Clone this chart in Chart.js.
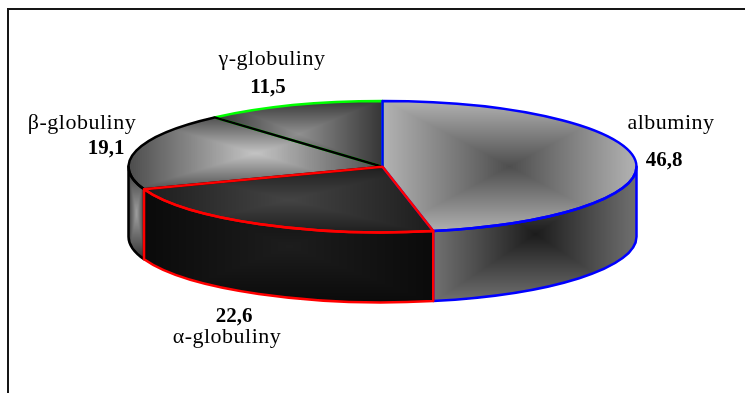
<!DOCTYPE html>
<html>
<head>
<meta charset="utf-8">
<script src="https://cdn.jsdelivr.net/npm/chart.js@4.4.1/dist/chart.umd.min.js"></script>
<style>
  html, body { margin: 0; padding: 0; background: #ffffff; }
  canvas { display: block; }
</style>
</head>
<body>
<canvas id="chart" width="745" height="393"></canvas>
<script>
// Serum protein fractions (%)
const categories = ['albuminy', 'α-globuliny', 'β-globuliny', 'γ-globuliny'];
const values = [46.8, 22.6, 19.1, 11.5];

// ---- styling ----
const edgeColors = ['#0000ff', '#ff0000', '#000000', '#00ff00'];
// [centre, edge] shades of the "from centre" fills
const topShades = [['#4e4e4e', '#b4b4b4'], ['#444444', '#1c1c1c'], ['#c4c4c4', '#4a4a4a'], ['#909090', '#333333']];
const sideShades = [['#1c1c1c', '#727272'], ['#1d1d1d', '#0a0a0a'], ['#a0a0a0', '#303030'], ['#555555', '#222222']];
const strokeOrder = [3, 2, 0, 1];
// label placement: [nameX, nameBaseline, valueX, valueBaseline]
const labelPos = [[671, 129, 664, 166], [227, 343, 234, 322], [82, 129, 106, 154], [272, 65, 268, 93]];
// projected disc: centre, radii, thickness
const DISC = { cx: 382.5, cy: 166.7, rx: 254, ry: 65.7, depth: 70 };

function hexRgb(h) {
  h = h.replace('#', '');
  return [0, 2, 4].map(i => parseInt(h.substr(i, 2), 16));
}

// rectangular gradient, centre colour fading to the edge colour
function rectShade(w, h, inner, outer) {
  w = Math.max(1, Math.ceil(w)); h = Math.max(1, Math.ceil(h));
  const cv = document.createElement('canvas');
  cv.width = w; cv.height = h;
  const g = cv.getContext('2d');
  const img = g.createImageData(w, h);
  const a = hexRgb(inner), b = hexRgb(outer);
  for (let y = 0; y < h; y++) {
    for (let x = 0; x < w; x++) {
      const t = Math.min(1, Math.max(Math.abs(x + 0.5 - w / 2) / (w / 2), Math.abs(y + 0.5 - h / 2) / (h / 2)));
      const k = (y * w + x) * 4;
      for (let c = 0; c < 3; c++) img.data[k + c] = Math.round(a[c] + (b[c] - a[c]) * t);
      img.data[k + 3] = 255;
    }
  }
  g.putImageData(img, 0, 0);
  return cv;
}

function ePt(a, dy) {
  return [DISC.cx + DISC.rx * Math.cos(a), DISC.cy + (dy || 0) + DISC.ry * Math.sin(a)];
}

function topBox(s, e) {
  const pts = [[DISC.cx, DISC.cy], ePt(s), ePt(e)];
  for (let k = -2; k <= 4; k++) {
    const a = k * Math.PI / 2;
    if (a > s && a < e) pts.push(ePt(a));
  }
  const xs = pts.map(p => p[0]), ys = pts.map(p => p[1]);
  const x = Math.min(...xs), y = Math.min(...ys);
  return { x, y, w: Math.max(...xs) - x, h: Math.max(...ys) - y };
}

function wallRange(el) {
  const a1 = Math.max(el.startAngle, 0), a2 = Math.min(el.endAngle, Math.PI);
  return a2 > a1 ? [a1, a2] : null;
}

function wallPath(ctx, a1, a2) {
  ctx.beginPath();
  ctx.ellipse(DISC.cx, DISC.cy, DISC.rx, DISC.ry, 0, a1, a2, false);
  ctx.ellipse(DISC.cx, DISC.cy + DISC.depth, DISC.rx, DISC.ry, 0, a2, a1, true);
  ctx.closePath();
}

function wallBox(a1, a2) {
  const x1 = DISC.cx + DISC.rx * Math.cos(a2), x2 = DISC.cx + DISC.rx * Math.cos(a1);
  const sMin = Math.min(Math.sin(a1), Math.sin(a2));
  const sMax = (a1 < Math.PI / 2 && a2 > Math.PI / 2) ? 1 : Math.max(Math.sin(a1), Math.sin(a2));
  const y1 = DISC.cy + DISC.ry * sMin, y2 = DISC.cy + DISC.depth + DISC.ry * sMax;
  return { x: x1, y: y1, w: x2 - x1, h: y2 - y1 };
}

function topPath(ctx, s, e) {
  ctx.beginPath();
  ctx.moveTo(DISC.cx, DISC.cy);
  const p = ePt(s);
  ctx.lineTo(p[0], p[1]);
  ctx.ellipse(DISC.cx, DISC.cy, DISC.rx, DISC.ry, 0, s, e, false);
  ctx.closePath();
}

const discPlugin = {
  id: 'disc3d',
  beforeDraw(chart) {
    const ctx = chart.ctx;
    ctx.save();
    ctx.fillStyle = '#161616';
    ctx.fillRect(7, 8, 738, 2);
    ctx.fillRect(7, 8, 2, 385);
    ctx.restore();
  },
  beforeDatasetsDraw(chart) {
    const ctx = chart.ctx;
    const arcs = chart.getDatasetMeta(0).data;
    const R = arcs[0].outerRadius, x0 = arcs[0].x, y0 = arcs[0].y;
    // map the library's circular pie onto the tilted disc
    const M = new DOMMatrix().translate(DISC.cx, DISC.cy).scale(DISC.rx / R, DISC.ry / R).translate(-x0, -y0);

    // outer side walls (front half only)
    arcs.forEach((el, i) => {
      const r = wallRange(el);
      if (!r) return;
      const b = wallBox(r[0], r[1]);
      ctx.save();
      wallPath(ctx, r[0], r[1]);
      ctx.clip();
      ctx.drawImage(rectShade(b.w + 2, b.h + 2, sideShades[i][0], sideShades[i][1]), b.x - 1, b.y - 1);
      ctx.restore();
    });

    // shaded top faces
    arcs.forEach((el, i) => {
      const b = topBox(el.startAngle, el.endAngle);
      const pat = ctx.createPattern(rectShade(b.w + 4, b.h + 4, topShades[i][0], topShades[i][1]), 'no-repeat');
      pat.setTransform(M.inverse().translate(b.x - 2, b.y - 2));
      el.options.backgroundColor = pat;
    });

    ctx.save();
    ctx.transform(M.a, M.b, M.c, M.d, M.e, M.f);
  },
  afterDatasetsDraw(chart) {
    const ctx = chart.ctx;
    ctx.restore();
    const arcs = chart.getDatasetMeta(0).data;
    ctx.save();
    ctx.lineWidth = 2.5;
    ctx.lineJoin = 'round';
    strokeOrder.forEach(i => {
      const el = arcs[i];
      ctx.strokeStyle = edgeColors[i];
      const r = wallRange(el);
      if (r) { wallPath(ctx, r[0], r[1]); ctx.stroke(); }
      topPath(ctx, el.startAngle, el.endAngle);
      ctx.stroke();
    });
    ctx.restore();
  },
  afterDraw(chart) {
    const ctx = chart.ctx;
    ctx.save();
    ctx.fillStyle = '#000000';
    ctx.textAlign = 'center';
    ctx.textBaseline = 'alphabetic';
    categories.forEach((name, i) => {
      const p = labelPos[i];
      ctx.font = '22px "Liberation Serif", "Times New Roman", serif';
      ctx.letterSpacing = '0.5px';
      ctx.fillText(name, p[0], p[1]);
      ctx.font = 'bold 21px "Liberation Serif", "Times New Roman", serif';
      ctx.letterSpacing = '0px';
      ctx.fillText(values[i].toFixed(1).replace('.', ','), p[2], p[3]);
    });
    ctx.restore();
  }
};

new Chart(document.getElementById('chart'), {
  type: 'pie',
  data: {
    labels: categories,
    datasets: [{
      data: values,
      backgroundColor: categories.map(() => '#888888'),
      borderWidth: 0,
      clip: false
    }]
  },
  options: {
    responsive: false,
    animation: false,
    events: [],
    rotation: 0,
    plugins: { legend: { display: false }, tooltip: { enabled: false } }
  },
  plugins: [discPlugin]
});
</script>
</body>
</html>
